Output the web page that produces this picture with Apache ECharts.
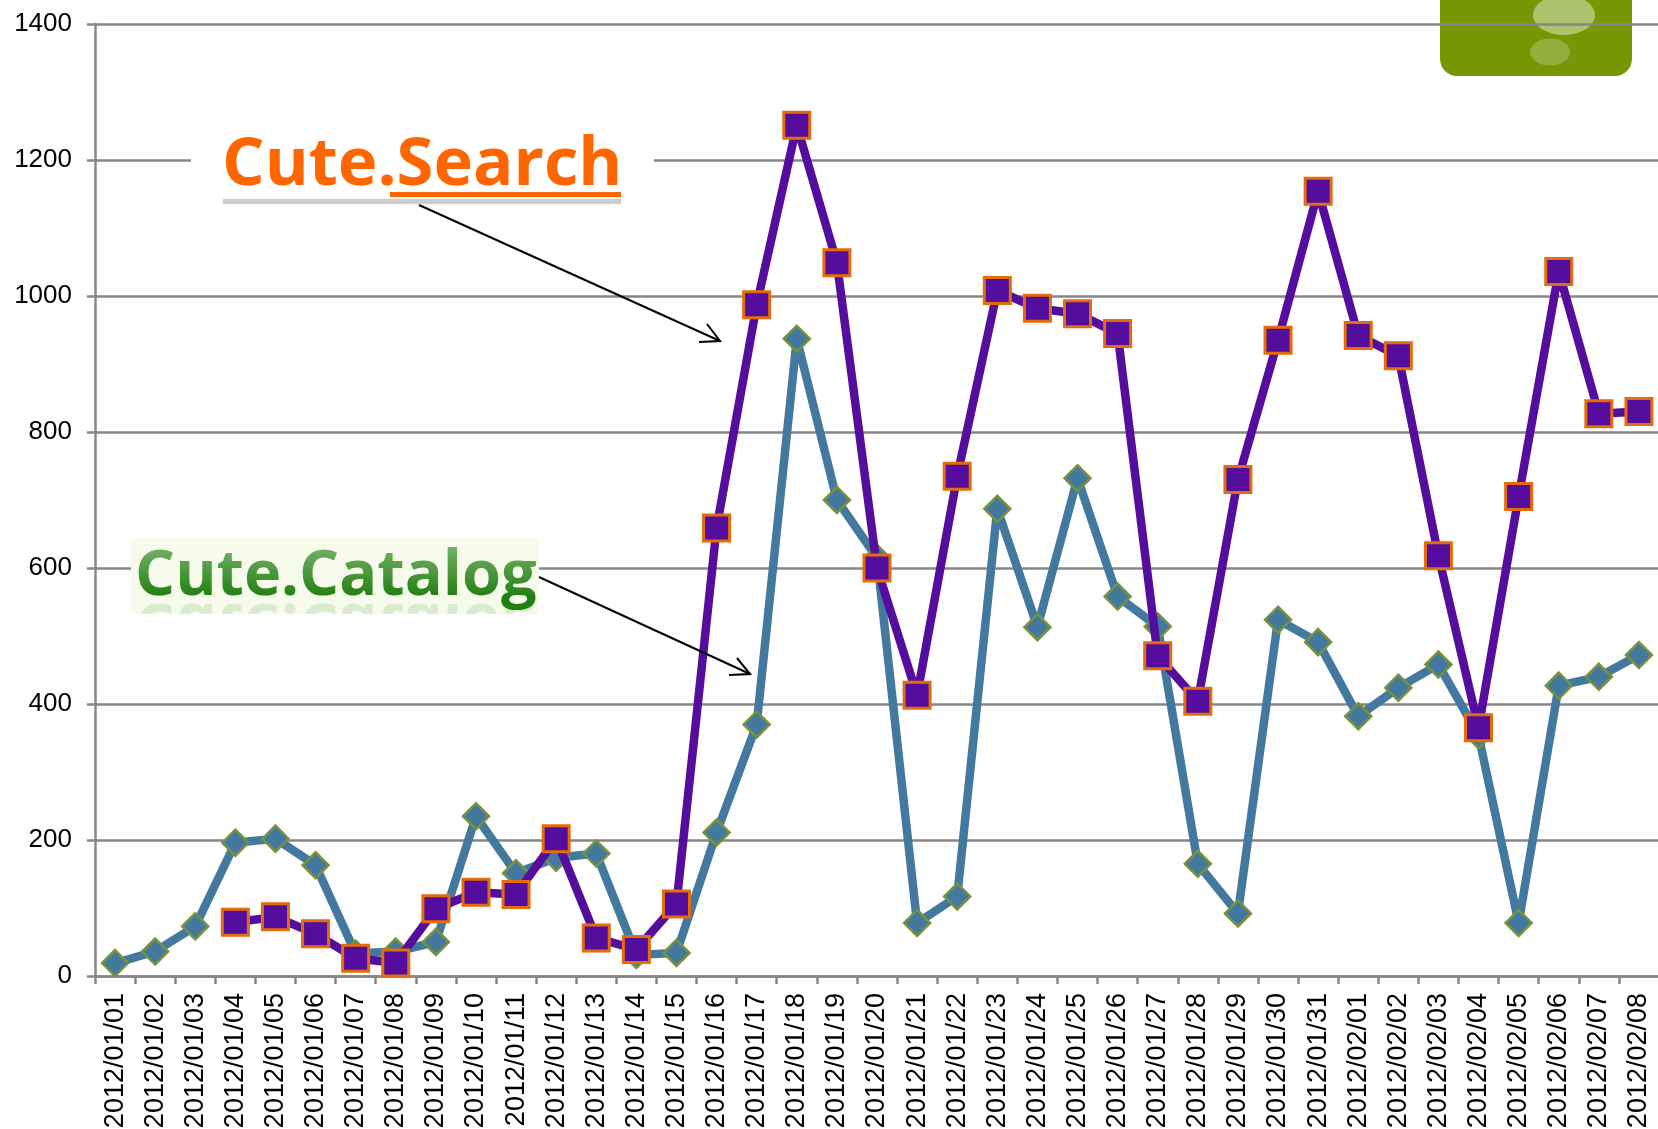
<!DOCTYPE html>
<html>
<head>
<meta charset="utf-8">
<title>Cute.Search / Cute.Catalog</title>
<script src="https://cdn.jsdelivr.net/npm/echarts@6/dist/echarts.min.js"></script>
<style>
	html, body { margin: 0; padding: 0; background: #fff; }
	#main { width: 1658px; height: 1129px; }
</style>
</head>
<body>
<div id="main"></div>
<script>
const dates = [
	'2012/01/01', '2012/01/02', '2012/01/03', '2012/01/04', '2012/01/05', '2012/01/06', '2012/01/07', '2012/01/08',
	'2012/01/09', '2012/01/10', '2012/01/11', '2012/01/12', '2012/01/13', '2012/01/14', '2012/01/15', '2012/01/16',
	'2012/01/17', '2012/01/18', '2012/01/19', '2012/01/20', '2012/01/21', '2012/01/22', '2012/01/23', '2012/01/24',
	'2012/01/25', '2012/01/26', '2012/01/27', '2012/01/28', '2012/01/29', '2012/01/30', '2012/01/31', '2012/02/01',
	'2012/02/02', '2012/02/03', '2012/02/04', '2012/02/05', '2012/02/06', '2012/02/07', '2012/02/08'
];
const catalog = [
	19, 36, 73, 196, 202, 163, 33, 36, 50, 235, 151, 174, 180, 31, 34, 211, 370, 937, 700, 615,
	78, 117, 687, 513, 732, 558, 514, 165, 92, 524, 491, 382, 424, 458, 354, 78, 427, 440, 472
];
const search = [
	null, null, null, 79, 87, 62, 26, 19, 99, 123, 120, 202, 56, 39, 106, 659, 987, 1251, 1049, 600,
	413, 735, 1008, 982, 974, 945, 471, 404, 730, 935, 1154, 942, 912, 618, 365, 705, 1036, 827, 830
];

const axisColor = '#868686';
const labelFont = '"Liberation Sans", Arial, sans-serif';
const logoFont = '"Open Sans", sans-serif';

// logo images and arrows are not data, drawn by hand on top of the chart
function arrow(x1, y1, x2, y2, hx1, hy1, hx2, hy2) {
	return [
		{ type: 'line', z: 10, shape: { x1: x1, y1: y1, x2: x2, y2: y2 }, style: { stroke: '#000', lineWidth: 2 } },
		{ type: 'polyline', z: 10, shape: { points: [[hx1, hy1], [x2, y2], [hx2, hy2]] }, style: { stroke: '#000', lineWidth: 2, fill: null } }
	];
}

let graphics = [
	// green badge, top right
	{ type: 'rect', z: -10, shape: { x: 1440, y: -20, width: 192, height: 96, r: 17 }, style: { fill: '#769703' } },
	{ type: 'ellipse', z: -9, shape: { cx: 1564, cy: 15, rx: 31, ry: 20 }, style: { fill: '#aec46c' } },
	{ type: 'ellipse', z: -9, shape: { cx: 1550, cy: 52, rx: 20, ry: 13.5 }, style: { fill: '#93ae3c' } },

	// Cute.Search
	{ type: 'rect', z: 1, shape: { x: 191, y: 120, width: 463, height: 90 }, style: { fill: '#fff' } },
	{ type: 'text', z: 3, x: 222, y: 199, style: { text: 'Cute.Search', fill: '#ff6600', font: 'bold 67px ' + logoFont, textVerticalAlign: 'bottom' } },
	{ type: 'rect', z: 3, shape: { x: 390, y: 192, width: 231, height: 5 }, style: { fill: '#ff6600' } },
	{ type: 'rect', z: 3, shape: { x: 223, y: 199, width: 398, height: 5 }, style: { fill: '#cccccc' } },

	// Cute.Catalog
	{ type: 'rect', z: 1, shape: { x: 131, y: 538, width: 408, height: 76 }, style: { fill: '#f7fbeb' } },
	{ type: 'text', z: 3, x: 135, y: 590, scaleY: -1, style: { text: 'Cute.Catalog', fill: '#dcebcf', font: 'bold 63px ' + logoFont, textVerticalAlign: 'bottom' } },
	{ type: 'rect', z: 4, shape: { x: 131, y: 614, width: 408, height: 50 }, style: { fill: '#fff' } },
	{ type: 'text', z: 5, x: 135, y: 609, style: { text: 'Cute.Catalog', fill: '#1f7f10', font: 'bold 63px ' + logoFont, textVerticalAlign: 'bottom' } },
	{
		type: 'rect', z: 6, shape: { x: 131, y: 540, width: 408, height: 58 },
		style: {
			fill: new echarts.graphic.LinearGradient(0, 0, 0, 1, [
				{ offset: 0, color: 'rgba(247,251,235,0.45)' },
				{ offset: 1, color: 'rgba(247,251,235,0)' }
			])
		}
	}
];
graphics = graphics.concat(arrow(419, 205, 720, 341, 707, 324, 699, 342));
graphics = graphics.concat(arrow(539, 577, 750, 674, 737, 658, 729, 675));

let mychart = echarts.init(document.getElementById('main'));
let option = {
	animation: false,
	backgroundColor: '#fff',
	grid: { left: 95, top: 24, width: 1564, height: 952, containLabel: false, outerBoundsMode: 'none' },
	xAxis: {
		type: 'category',
		data: dates,
		boundaryGap: true,
		axisLine: { lineStyle: { color: axisColor, width: 2.5 } },
		axisTick: { show: true, alignWithLabel: false, length: 8, lineStyle: { color: axisColor, width: 2.5 } },
		axisLabel: {
			interval: 0,
			rotate: 90,
			margin: 17,
			color: '#000',
			fontFamily: labelFont,
			fontSize: 27
		}
	},
	yAxis: {
		type: 'value',
		min: 0,
		max: 1400,
		interval: 200,
		axisLine: { show: true, lineStyle: { color: axisColor, width: 2.5 } },
		axisTick: { show: true, length: 8, lineStyle: { color: axisColor, width: 2.5 } },
		splitLine: { show: true, lineStyle: { color: axisColor, width: 2.5 } },
		axisLabel: {
			margin: 23,
			color: '#000',
			fontFamily: labelFont,
			fontSize: 26,
			formatter: function (value) { return String(value); }
		}
	},
	series: [{
		name: 'Cute.Catalog',
		type: 'line',
		data: catalog,
		clip: false,
		z: 2,
		symbol: 'diamond',
		symbolSize: 26,
		lineStyle: { color: '#44799f', width: 8.5 },
		itemStyle: { color: '#44799f', borderColor: '#76923c', borderWidth: 2.5 }
	}, {
		name: 'Cute.Search',
		type: 'line',
		data: search,
		clip: false,
		z: 3,
		symbol: 'rect',
		symbolSize: 26,
		lineStyle: { color: '#540d9c', width: 8.5 },
		itemStyle: { color: '#540d9c', borderColor: '#e46c0a', borderWidth: 3 }
	}],
	graphic: { elements: graphics }
};

mychart.setOption(option);
</script>
</body>
</html>
